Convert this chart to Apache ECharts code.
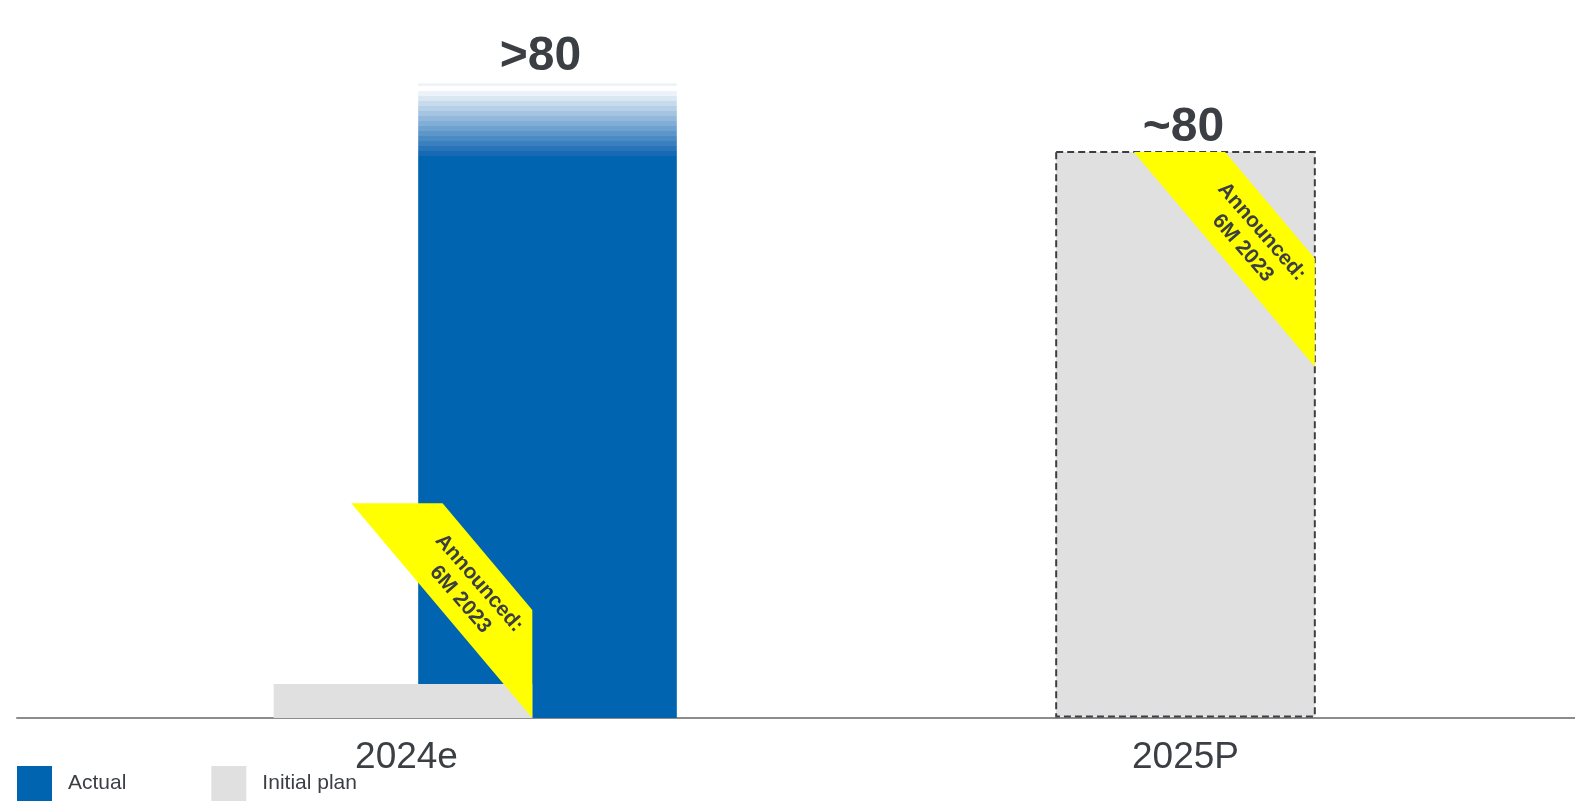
<!DOCTYPE html>
<html><head><meta charset="utf-8">
<script src="https://cdn.jsdelivr.net/npm/echarts@6/dist/echarts.min.js"></script>
<style>html,body{margin:0;padding:0;background:#fff}#chart{width:1575px;height:801px}</style>
</head><body><div id="chart"></div>
<script>
// ---- data ----
const categories = ['2024e', '2025P'];
const actualSolid = [79.5, null];     // solid part of the "Actual" bar
const actualFadeTop = [89.7, null];   // faded extension (">80")
const initialPlan = [4.8, 80];
const valueLabels = ['>80', '~80'];
const stickerLines = ['Announced:', '6M 2023'];
const seriesNames = ['Actual', 'Initial plan'];

// ---- styles ----
const BLUE = '#0064b0', GRAY = '#e0e0e0', DARK = '#3b3f44', YELLOW = '#ffff00';
const FONT = 'Arial, "Liberation Sans", sans-serif';

function hex(c){return [1,3,5].map(i=>parseInt(c.substr(i,2),16));}
function mix(c1,c2,t){const a=hex(c1),b=hex(c2);return 'rgb('+a.map((v,i)=>Math.round(v+(b[i]-v)*t)).join(',')+')';}

function grayGeom(api, idx){
  const W = api.size([1,0])[0];
  const bw = W*0.332;
  const center = api.coord([idx,0]);
  const hasActual = actualSolid[idx] != null;
  const cx = center[0] + (hasActual ? -0.0045*W : 0);
  const yTop = api.coord([idx, initialPlan[idx]])[1];
  return {x: cx - bw/2, y: yTop, w: bw, h: center[1]-yTop, base: center[1], cx: cx, bw: bw};
}
function actualGeom(api, idx){
  const W = api.size([1,0])[0];
  const bw = W*0.332;
  const center = api.coord([idx,0]);
  const cx = center[0] + 0.181*W;
  const ySolid = api.coord([idx, actualSolid[idx]])[1];
  const yTop = api.coord([idx, actualFadeTop[idx]])[1];
  return {x: cx-bw/2, y: yTop, w: bw, h: center[1]-yTop, ySolid: ySolid, base: center[1], cx: cx};
}

const chart = echarts.init(document.getElementById('chart'), null, {renderer:'canvas'});

const actualData = categories.map((c,i)=>[i, actualSolid[i], actualFadeTop[i]]).filter(d=>d[1]!=null);
const planData = categories.map((c,i)=>[i, initialPlan[i]]);

chart.setOption({
  animation: false,
  grid: {left: 17, right: 0, top: 10.5, bottom: 83},
  xAxis: {
    type: 'category', data: categories,
    axisTick: {show:false},
    axisLine: {lineStyle: {color:'#8c8c8c', width:2}},
    axisLabel: {fontSize: 37, color: DARK, fontFamily: FONT, margin: 21}
  },
  yAxis: {type:'value', min:0, max:100, show:false, splitLine:{show:false}},
  legend: {
    left: 17, top: 766, padding: 0, itemWidth: 35, itemHeight: 35, itemGap: 85,
    selectedMode: false,
    textStyle: {fontSize: 21, color: DARK, fontFamily: FONT, padding: [0,0,0,11]},
    data: [
      {name: seriesNames[0], icon: 'rect', itemStyle: {color: BLUE}},
      {name: seriesNames[1], icon: 'rect', itemStyle: {color: GRAY}}
    ]
  },
  series: [
    {
      name: seriesNames[0], type: 'custom', z: 2,
      data: actualData,
      encode: {x:0, y:1},
      itemStyle: {color: BLUE},
      renderItem: function(params, api){
        const idx = api.value(0);
        const g = actualGeom(api, idx);
        const h = g.h;
        const a = 2.8/h, b = 7.5/h, f = (g.ySolid - g.y)/h;
        const stops = [{offset:0,color:'#edf3f9'},{offset:a,color:'#edf3f9'},{offset:a,color:'#ffffff'},{offset:b,color:'#ffffff'}];
        const N = 13;
        for (let i=0;i<N;i++){
          const s = b + i*(f-b)/N, e = b + (i+1)*(f-b)/N;
          const col = mix('#ebf2f9', '#1669b2', i/(N-1));
          stops.push({offset:s,color:col},{offset:e,color:col});
        }
        stops.push({offset:f,color:BLUE},{offset:1,color:BLUE});
        return {
          type:'rect',
          shape:{x:g.x, y:g.y, width:g.w, height:g.h},
          style:{fill: new echarts.graphic.LinearGradient(0,0,0,1,stops)}
        };
      }
    },
    {
      name: seriesNames[1], type: 'custom', z: 3,
      data: planData,
      encode: {x:0, y:1},
      itemStyle: {color: GRAY},
      renderItem: function(params, api){
        const idx = api.value(0);
        const g = grayGeom(api, idx);
        const dashed = actualSolid[idx] == null;
        return {
          type:'rect',
          shape:{x:g.x, y:g.y, width:g.w, height:g.h - (dashed?1.5:0)},
          style: dashed ? {fill: GRAY, stroke: DARK, lineWidth: 2, lineDash:[7,4]} : {fill: GRAY}
        };
      }
    },
    {
      name: 'sticker', type: 'custom', z: 4,
      data: planData,
      encode: {x:0, y:1},
      renderItem: function(params, api){
        const idx = api.value(0);
        const g = grayGeom(api, idx);
        const bw = g.bw;
        const H = 0.83*bw, run = 0.70*bw, topW = 0.353*bw, rightDrop = 0.412*bw;
        const R = g.x + g.w;
        const T = Math.min(g.y, g.base - H);
        const children = [];
        children.push({
          type:'polygon',
          shape:{points:[[R-run,T],[R-run+topW,T],[R,T+rightDrop],[R,T+H]]},
          style:{fill: YELLOW}
        });
        children.push({
          type:'text',
          x: R - 0.242*bw, y: T + 0.34*bw,
          rotation: -49*Math.PI/180,
          style:{text: stickerLines.join('\n'), font: 'bold 21px ' + FONT, fill: DARK,
                 align:'center', verticalAlign:'middle', lineHeight: 25}
        });
        // value label on top of the tallest bar of this category
        let lx = g.cx, ly = g.y, dx = -2;
        if (actualSolid[idx] != null){
          const a = actualGeom(api, idx);
          if (a.y < ly){ lx = a.cx; ly = a.y; dx = -7; }
        }
        const off = actualSolid[idx] != null ? 27 : 24;
        children.push({
          type:'text', x: lx + dx, y: ly - off,
          style:{text: valueLabels[idx], font: 'bold 48px ' + FONT, fill: DARK, align:'center', verticalAlign:'middle'}
        });
        return {type:'group', children: children};
      }
    }
  ]
});
</script></body></html>
